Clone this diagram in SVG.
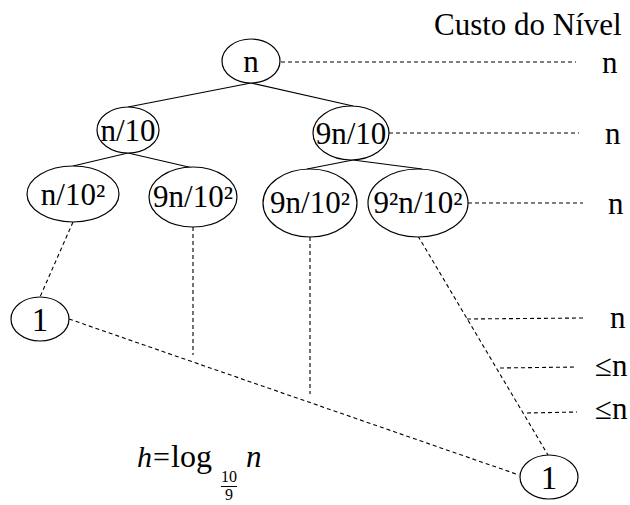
<svg xmlns="http://www.w3.org/2000/svg" width="630" height="505" viewBox="0 0 630 505" font-family="'Liberation Serif', 'DejaVu Serif', serif">
<style>
.n ellipse{fill:#fff;stroke:#000;stroke-width:1.2}
text{font-family:"Liberation Serif","DejaVu Serif",serif;fill:#000}
.t{font-size:31px;text-anchor:middle}
.one{font-size:33px}
.e{stroke:#000;stroke-width:1.2;fill:none}
.d{stroke:#000;stroke-width:1.1;fill:none;stroke-dasharray:4,3}
.lbl{font-size:31px}
</style>
<rect width="630" height="505" fill="#fff"/>
<g id="connectors">
<line class="e" x1="251" y1="83" x2="128" y2="107"/>
<line class="e" x1="251" y1="83" x2="353" y2="106"/>
<line class="e" x1="128" y1="153" x2="73" y2="166"/>
<line class="e" x1="128" y1="153" x2="193" y2="168"/>
<line class="e" x1="353" y1="160" x2="307" y2="169"/>
<line class="e" x1="353" y1="160" x2="422" y2="169"/>
<line class="d" x1="73" y1="222" x2="40" y2="297"/>
<line class="d" x1="193" y1="227" x2="193" y2="355"/>
<line class="d" x1="310" y1="237" x2="310" y2="394"/>
<line class="d" x1="418" y1="236" x2="548" y2="455"/>
<line class="d" x1="69" y1="319" x2="519" y2="475"/>
<line class="d" x1="281" y1="62" x2="576" y2="62"/>
<line class="d" x1="389" y1="133" x2="579" y2="133"/>
<line class="d" x1="468" y1="203" x2="583" y2="203"/>
<line class="d" x1="467" y1="319" x2="583" y2="318"/>
<line class="d" x1="500" y1="368" x2="577" y2="367"/>
<line class="d" x1="527" y1="413" x2="577" y2="412"/>
</g>
<g id="n0" class="n"><ellipse cx="251" cy="61" rx="29" ry="22"/><text class="t" x="251" y="72">n</text></g>
<g id="n1" class="n"><ellipse cx="128" cy="130" rx="31" ry="23"/><text class="t" x="128" y="141">n/10</text></g>
<g id="n2" class="n"><ellipse cx="351" cy="133" rx="38" ry="27"/><text class="t" x="351" y="144">9n/10</text></g>
<g id="n3" class="n"><ellipse cx="73" cy="194" rx="46" ry="28"/><text class="t" x="73" y="205">n/10²</text></g>
<g id="n4" class="n"><ellipse cx="193" cy="197" rx="44" ry="30"/><text class="t" x="193" y="207">9n/10²</text></g>
<g id="n5" class="n"><ellipse cx="310" cy="203" rx="47" ry="34"/><text class="t" x="310" y="213">9n/10²</text></g>
<g id="n6" class="n"><ellipse cx="418" cy="203" rx="50" ry="34"/><text class="t" x="418" y="213">9²n/10²</text></g>
<g id="n7" class="n"><ellipse cx="40" cy="319" rx="29" ry="22"/><text class="t one" x="40" y="331">1</text></g>
<g id="n8" class="n"><ellipse cx="549" cy="477" rx="29" ry="22"/><text class="t one" x="549" y="489">1</text></g>
<g id="labels">
<text class="lbl" x="434" y="35" font-size="31.5">Custo do Nível</text>
<text class="lbl" x="602" y="73">n</text>
<text class="lbl" x="605" y="144">n</text>
<text class="lbl" x="608" y="214">n</text>
<text class="lbl" x="610" y="328">n</text>
<text class="lbl" x="595" y="376">≤n</text>
<text class="lbl" x="595" y="419">≤n</text>
</g>
<g id="formula">
<text x="137" y="467" font-size="30" font-style="italic">h</text>
<text x="153" y="467" font-size="30">=</text>
<text x="171" y="467" font-size="32">log</text>
<text x="229" y="482" font-size="16" text-anchor="middle">10</text>
<line x1="221" y1="486.5" x2="237" y2="486.5" stroke="#000" stroke-width="1"/>
<text x="229" y="500" font-size="16" text-anchor="middle">9</text>
<text x="246" y="467" font-size="31" font-style="italic">n</text>
</g>
</svg>
